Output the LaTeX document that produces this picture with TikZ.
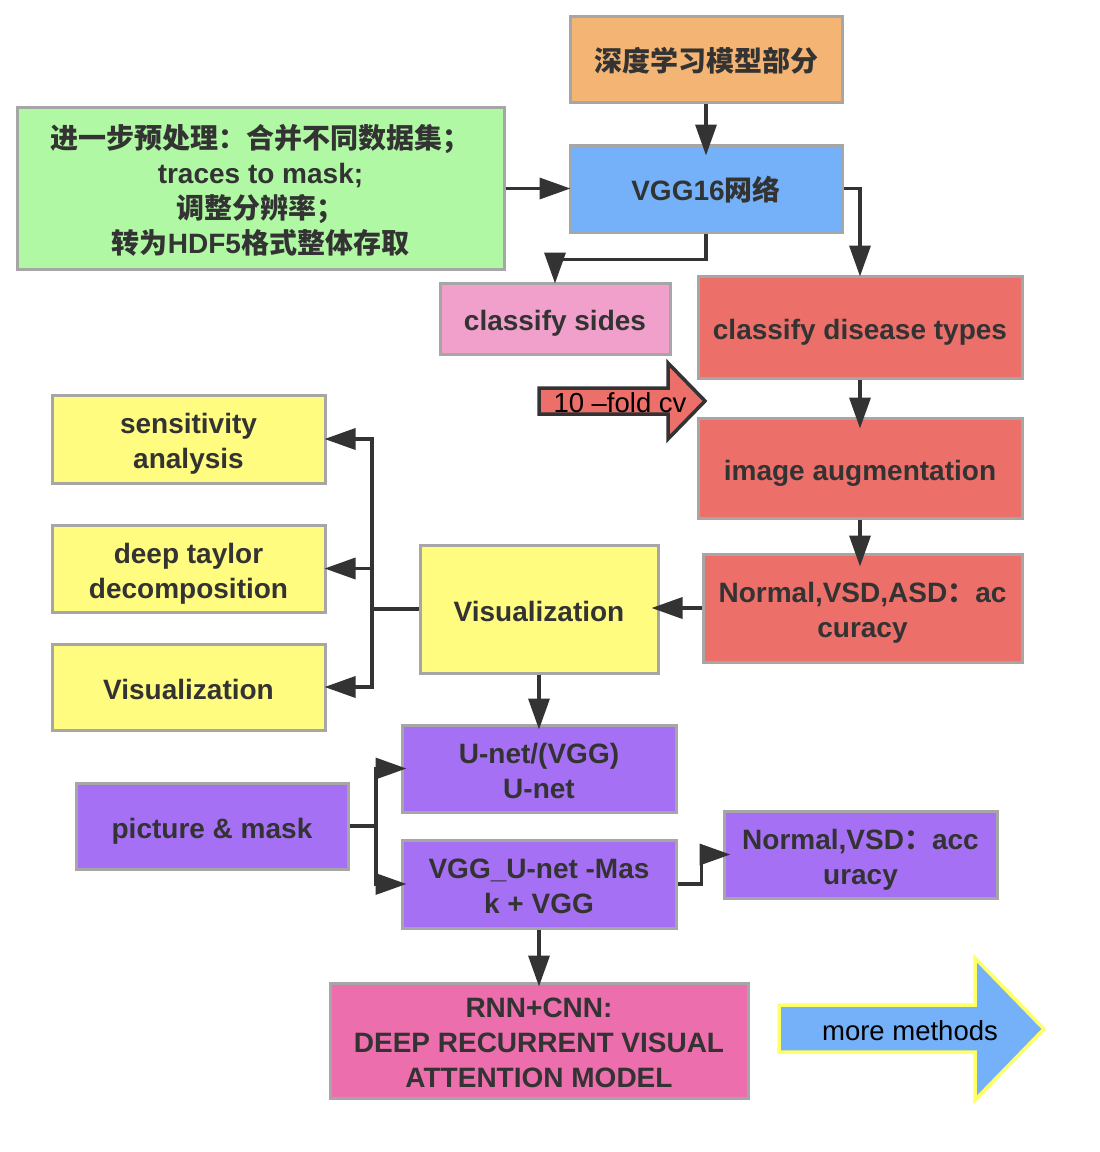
\documentclass[tikz,border=0pt]{standalone}
\usepackage{fontspec}
\setmainfont{Liberation Sans}
\newfontfamily\cjk{Noto Sans CJK SC}
\usetikzlibrary{arrows.meta}
\definecolor{corange}{HTML}{F4B574}
\definecolor{cblue}{HTML}{74B1F8}
\definecolor{cgreen}{HTML}{B0F8A3}
\definecolor{cpink}{HTML}{F0A0CA}
\definecolor{cred}{HTML}{EC6F6A}
\definecolor{cyellow}{HTML}{FFFC80}
\definecolor{cpurple}{HTML}{A670F5}
\definecolor{cmagenta}{HTML}{EC6EAC}
\definecolor{bordergray}{HTML}{A6A6A6}
\definecolor{linecol}{HTML}{333333}
\definecolor{yline}{HTML}{FFFF66}
\newcommand\topstrutX{\rule{0pt}{31pt}}
\newcommand\botstrutX{\rule[-7pt]{0pt}{7pt}}
\newcommand\bxt[1]{\topstrutX#1\botstrutX}
\begin{document}
\begin{tikzpicture}[x=1pt,y=-1pt,
  box/.style={draw=bordergray, line width=3pt, align=center, text=linecol,
    font=\fontsize{28}{35}\selectfont\bfseries, inner sep=0pt},
  conn/.style={draw=linecol, line width=3.5pt, -{Triangle[length=31pt,width=21pt]}, shorten >=-6pt},
  plain/.style={draw=linecol, line width=3.5pt},
  arrowtext/.style={font=\fontsize{27.5}{30}\selectfont, text=black, inner sep=0pt}]
\useasboundingbox (0,0) rectangle (1100,1152);

% boxes
\node[box, fill=corange, minimum width=272pt, minimum height=86pt] (model) at (706,59) {\bxt{\cjk 深度学习模型部分}};
\node[box, fill=cblue, minimum width=272pt, minimum height=87pt] (vgg) at (706,188.5) {\bxt{VGG16{\cjk 网络}}};
\node[box, fill=cgreen, minimum width=487pt, minimum height=162pt] (pre) at (260.5,188.5)
  {\bxt{{\cjk 进一步预处理：合并不同数据集；}\\traces to mask;\\{\cjk 调整分辨率；}\\{\cjk 转为}HDF5{\cjk 格式整体存取}}};
\node[box, fill=cpink, minimum width=230pt, minimum height=71pt] (sides) at (555,318.5) {\bxt{classify sides}};
\node[box, fill=cred, minimum width=324pt, minimum height=102pt] (disease) at (860,327) {\bxt{classify disease types}};
\node[box, fill=cred, minimum width=324pt, minimum height=100pt] (aug) at (860,468) {\bxt{image augmentation}};
\node[box, fill=cred, minimum width=319pt, minimum height=108pt] (norm3) at (862.5,608) {\bxt{Normal,VSD,ASD{\cjk ：}ac\\curacy}};
\node[box, fill=cyellow, minimum width=238pt, minimum height=128pt] (vis) at (539,609) {\bxt{Visualization}};
\node[box, fill=cyellow, minimum width=273pt, minimum height=88pt] (sens) at (188.5,439) {\bxt{sensitivity\\analysis}};
\node[box, fill=cyellow, minimum width=273pt, minimum height=87pt] (taylor) at (188.5,568.5) {\bxt{deep taylor\\decomposition}};
\node[box, fill=cyellow, minimum width=273pt, minimum height=86pt] (vistwo) at (188.5,687) {\bxt{Visualization}};
\node[box, fill=cpurple, minimum width=274pt, minimum height=87pt] (unet) at (539,768.5) {\bxt{U-net/(VGG)\\U-net}};
\node[box, fill=cpurple, minimum width=272pt, minimum height=86pt] (pic) at (212,826) {\bxt{picture \& mask}};
\node[box, fill=cpurple, minimum width=274pt, minimum height=88pt] (vggu) at (539,884) {\bxt{VGG\_U-net -Mas\\k + VGG}};
\node[box, fill=cpurple, minimum width=273pt, minimum height=87pt] (norm2) at (860.5,854.5) {\bxt{Normal,VSD{\cjk ：}acc\\uracy}};
\node[box, fill=cmagenta, minimum width=418pt, minimum height=115pt] (rnn) at (539,1040.5) {\bxt{RNN+CNN:\\DEEP RECURRENT VISUAL\\ATTENTION MODEL}};

% block arrows
\filldraw[fill=cred, draw=linecol, line width=3.5pt, line join=miter]
  (539,388) -- (668,388) -- (668,363) -- (705,401) -- (668,439) -- (668,414) -- (539,414) -- cycle;
\node[arrowtext] (cv) at (620,403) {10 –fold cv};
\filldraw[fill=cblue, draw=yline, line width=3.5pt, line join=miter]
  (779,1005) -- (975,1005) -- (975,958) -- (1044,1029) -- (975,1100) -- (975,1052) -- (779,1052) -- cycle;
\node[arrowtext] (more) at (910,1031) {more methods};

% connectors
\draw[conn, shorten >=-12pt] (model) -- (vgg);
\draw[conn, shorten >=-2pt] (pre.east) -- (vgg.west);
\draw[conn, shorten >=-2pt] (vgg.east) -| (disease.north);
\draw[conn, shorten >=-2pt] (vgg.south) -- ++(0,26) -| (sides.north);
\draw[conn, shorten >=-12pt] (disease) -- (aug);
\draw[conn, shorten >=-14pt] (aug.south) -- (aug.south |- norm3.north);
\draw[conn, shorten >=-8pt] (norm3.west) -- (norm3.west -| vis.east);
\coordinate (vb) at (372,609);
\draw[plain] (vis.west) -- (vb);
\draw[conn, shorten >=-2pt] (vb) |- (sens.east);
\draw[conn, shorten >=-2pt] (vb) |- (taylor.east);
\draw[conn, shorten >=-2pt] (vb) |- (vistwo.east);
\draw[conn] (vis) -- (unet);
\coordinate (pb) at (376,826);
\draw[plain] (pic.east) -- (pb);
\draw[conn] (pb) |- (unet.west);
\draw[conn] (pb) |- (vggu.west);
\draw[conn, shorten >=-8pt] (vggu.east) -- ++(24,0) |- (norm2.west);
\draw[conn, shorten >=-5pt] (vggu) -- (rnn);
\end{tikzpicture}
\end{document}
